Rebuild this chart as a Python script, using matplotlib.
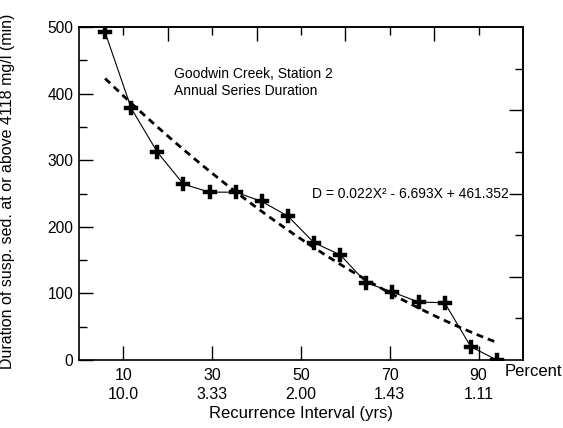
import matplotlib
matplotlib.use("Agg")
import matplotlib.pyplot as plt
import numpy as np
from matplotlib.ticker import MultipleLocator, FixedLocator, NullFormatter

plt.rcParams['font.family'] = ['Liberation Sans', 'DejaVu Sans']

# Data
percent = [5.88, 11.76, 17.65, 23.53, 29.41, 35.29, 41.18, 47.06, 52.94,
           58.82, 64.71, 70.59, 76.47, 82.35, 88.24, 94.12]
duration = [492, 378, 312, 264, 252, 252, 238, 216, 176,
            158, 116, 102, 87, 86, 20, 0]
fit_coef = [0.022, -6.693, 461.352]

tick_pos = [10, 30, 50, 70, 90]
tick_pct = ['10', '30', '50', '70', '90']
tick_ri = ['10.0', '3.33', '2.00', '1.43', '1.11']

fig = plt.figure(figsize=(5.63, 4.28), dpi=100)
ax = fig.add_axes([79/563, 68/428, 444/563, 333/428])

xfit = np.linspace(percent[0], percent[-1], 100)
yfit = np.polyval(fit_coef, xfit)
ax.plot(xfit, yfit, color='black', lw=2.0, ls=(0, (2.5, 1.8)))
ax.plot(percent, duration, color='black', lw=0.8, marker='P',
        markersize=10.5, markerfacecolor='black', markeredgecolor='black',
        markeredgewidth=0.3)

ax.set_xlim(0, 100)
ax.set_ylim(0, 500)

ax.set_xticks(tick_pos)
ax.set_xticklabels([f"{a}\n{b}" for a, b in zip(tick_pct, tick_ri)],
                   fontsize=11.5, linespacing=1.3)
ax.yaxis.set_major_locator(MultipleLocator(100))
ax.yaxis.set_minor_locator(MultipleLocator(50))
ax.tick_params(axis='y', which='major', direction='in', length=10, width=1,
               labelsize=11.2, pad=4)
ax.tick_params(axis='y', which='minor', direction='in', length=6, width=1)
ax.tick_params(axis='x', which='major', direction='in', length=10, width=1,
               pad=6)

# top ticks
axt = ax.secondary_xaxis('top')
axt.xaxis.set_major_locator(FixedLocator([20, 40, 60, 80]))
axt.xaxis.set_minor_locator(FixedLocator([10, 30, 50, 70, 90]))
axt.xaxis.set_major_formatter(NullFormatter())
axt.tick_params(which='major', direction='in', length=10, width=1)
axt.tick_params(which='minor', direction='in', length=6, width=1)

# right ticks
axr = ax.secondary_yaxis('right')
axr.yaxis.set_major_locator(FixedLocator([125, 250, 375]))
axr.yaxis.set_minor_locator(FixedLocator([62.5, 187.5, 312.5, 437.5]))
axr.yaxis.set_major_formatter(NullFormatter())
axr.tick_params(which='major', direction='in', length=10, width=1)
axr.tick_params(which='minor', direction='in', length=6, width=1)

for s in ax.spines.values():
    s.set_linewidth(1.2)
axt.spines['top'].set_linewidth(1.2)
axr.spines['right'].set_linewidth(1.2)

ax.set_xlabel('Recurrence Interval (yrs)', fontsize=12)
ax.xaxis.set_label_coords(0.5, -0.137)
ax.set_ylabel('Duration of susp. sed. at or above 4118 mg/l (min)',
              fontsize=11.5)
ax.yaxis.set_label_coords(-0.144, 0.507)

ax.text(0.959, -0.036, 'Percent', transform=ax.transAxes, fontsize=12,
        ha='left', va='center')
ax.text(0.215, 0.88, 'Goodwin Creek, Station 2\nAnnual Series Duration',
        transform=ax.transAxes, fontsize=10, ha='left', va='top',
        linespacing=1.3)
ax.text(0.525, 0.5, 'D = 0.022X² - 6.693X + 461.352',
        transform=ax.transAxes, fontsize=10, ha='left', va='center')

fig.savefig('out.png', dpi=100)
